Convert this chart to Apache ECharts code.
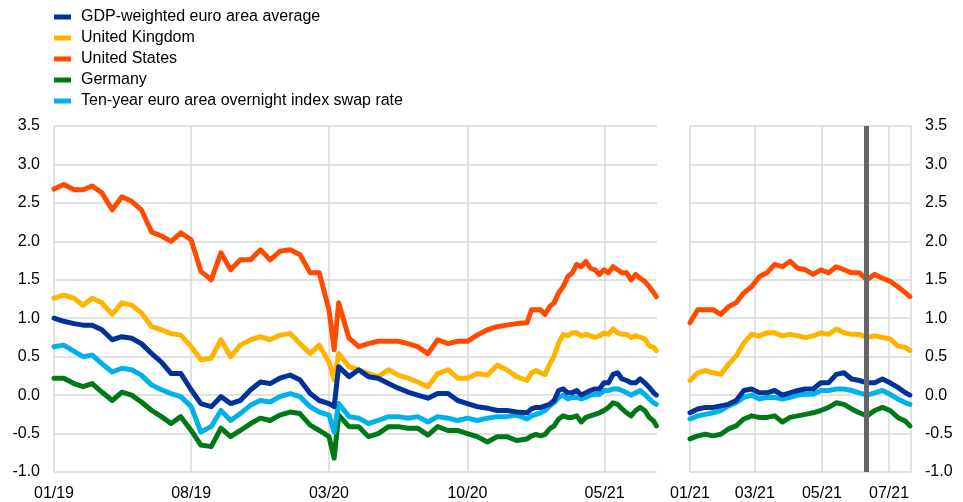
<!DOCTYPE html>
<html>
<head>
<meta charset="utf-8">
<script src="https://cdn.jsdelivr.net/npm/echarts@6/dist/echarts.min.js"></script>
<style>
html, body { margin: 0; padding: 0; background: #fff; }
#chart { width: 963px; height: 502px; }
</style>
</head>
<body>
<div id="chart"></div>
<script>
// semi-monthly to 2020, weekly in 2021
var dates = [
    '2019-01-01', '2019-01-16', '2019-02-01', '2019-02-15', '2019-03-01', '2019-03-16', '2019-04-01', '2019-04-16',
    '2019-05-01', '2019-05-16', '2019-06-01', '2019-06-16', '2019-07-01', '2019-07-16', '2019-08-01', '2019-08-16',
    '2019-09-01', '2019-09-16', '2019-10-01', '2019-10-16', '2019-11-01', '2019-11-16', '2019-12-01', '2019-12-16',
    '2020-01-01', '2020-01-16', '2020-02-01', '2020-02-15', '2020-03-01', '2020-03-09', '2020-03-16', '2020-04-01',
    '2020-04-16', '2020-05-01', '2020-05-16', '2020-06-01', '2020-06-16', '2020-07-01', '2020-07-16', '2020-08-01',
    '2020-08-16', '2020-09-01', '2020-09-16', '2020-10-01', '2020-10-16', '2020-11-01', '2020-11-16', '2020-12-01',
    '2020-12-16',
    '2021-01-01', '2021-01-08', '2021-01-15', '2021-01-22', '2021-01-29', '2021-02-05', '2021-02-12', '2021-02-19',
    '2021-02-26', '2021-03-05', '2021-03-12', '2021-03-19', '2021-03-26', '2021-04-02', '2021-04-09', '2021-04-16',
    '2021-04-23', '2021-04-30', '2021-05-07', '2021-05-14', '2021-05-21', '2021-05-28', '2021-06-04', '2021-06-11',
    '2021-06-18', '2021-06-25', '2021-07-02', '2021-07-09', '2021-07-16', '2021-07-20'
];
var gdpWeighted = [
    1.00, 0.96, 0.93, 0.91, 0.91, 0.85, 0.72, 0.76, 0.74, 0.67, 0.54, 0.43, 0.28, 0.28, 0.07, -0.11,
    -0.15, -0.02, -0.11, -0.07, 0.07, 0.17, 0.15, 0.22,
    0.26, 0.20, 0.02, -0.07, -0.11, -0.15, 0.37, 0.24, 0.33, 0.24, 0.22, 0.15, 0.09, 0.04, 0.00, -0.04,
    0.02, 0.02, -0.07, -0.11, -0.15, -0.17, -0.20, -0.20, -0.22,
    -0.23, -0.18, -0.16, -0.16, -0.14, -0.12, -0.07, 0.06, 0.08, 0.03, 0.03, 0.06, 0.00, 0.03, 0.06, 0.08,
    0.08, 0.16, 0.16, 0.27, 0.29, 0.21, 0.19, 0.16, 0.16, 0.21, 0.16, 0.10, 0.03, 0.00
];
var unitedKingdom = [
    1.26, 1.30, 1.26, 1.17, 1.26, 1.20, 1.05, 1.20, 1.17, 1.07, 0.89, 0.85, 0.80, 0.78, 0.63, 0.46,
    0.48, 0.72, 0.50, 0.65, 0.72, 0.76, 0.72, 0.78,
    0.80, 0.67, 0.54, 0.65, 0.43, 0.20, 0.54, 0.37, 0.33, 0.28, 0.24, 0.33, 0.26, 0.22, 0.17, 0.11,
    0.28, 0.33, 0.22, 0.22, 0.28, 0.26, 0.39, 0.33, 0.24,
    0.19, 0.29, 0.32, 0.29, 0.27, 0.40, 0.51, 0.68, 0.79, 0.77, 0.81, 0.81, 0.77, 0.79, 0.77, 0.75,
    0.77, 0.81, 0.79, 0.86, 0.81, 0.79, 0.79, 0.75, 0.77, 0.75, 0.73, 0.64, 0.62, 0.58
];
var unitedStates = [
    2.68, 2.74, 2.67, 2.67, 2.72, 2.63, 2.41, 2.58, 2.52, 2.41, 2.12, 2.07, 2.00, 2.11, 2.02, 1.61,
    1.50, 1.85, 1.63, 1.76, 1.76, 1.89, 1.76, 1.87,
    1.89, 1.83, 1.59, 1.59, 1.11, 0.59, 1.20, 0.74, 0.63, 0.67, 0.70, 0.70, 0.70, 0.67, 0.63, 0.54,
    0.72, 0.67, 0.70, 0.70, 0.78, 0.85, 0.89, 0.91, 0.93,
    0.94, 1.11, 1.11, 1.11, 1.05, 1.15, 1.20, 1.33, 1.41, 1.54, 1.59, 1.70, 1.67, 1.74, 1.65, 1.63,
    1.57, 1.63, 1.59, 1.67, 1.63, 1.59, 1.59, 1.50, 1.57, 1.52, 1.48, 1.41, 1.33, 1.28
];
var germany = [
    0.22, 0.22, 0.15, 0.11, 0.15, 0.04, -0.07, 0.04, 0.00, -0.09, -0.20, -0.28, -0.37, -0.28, -0.46, -0.65,
    -0.67, -0.43, -0.54, -0.46, -0.37, -0.30, -0.33, -0.26,
    -0.22, -0.24, -0.39, -0.46, -0.54, -0.82, -0.26, -0.41, -0.41, -0.54, -0.50, -0.41, -0.41, -0.43, -0.43, -0.52,
    -0.41, -0.46, -0.46, -0.50, -0.54, -0.61, -0.54, -0.54, -0.59,
    -0.57, -0.53, -0.51, -0.53, -0.51, -0.44, -0.40, -0.31, -0.27, -0.29, -0.29, -0.27, -0.35, -0.29, -0.27, -0.25,
    -0.23, -0.20, -0.16, -0.10, -0.12, -0.18, -0.23, -0.27, -0.20, -0.16, -0.20, -0.29, -0.34, -0.40
];
var oisTenYear = [
    0.63, 0.65, 0.57, 0.50, 0.52, 0.41, 0.30, 0.35, 0.33, 0.26, 0.13, 0.07, 0.02, -0.02, -0.15, -0.48,
    -0.41, -0.20, -0.33, -0.24, -0.13, -0.07, -0.09, -0.02,
    0.02, -0.02, -0.15, -0.22, -0.26, -0.48, -0.11, -0.28, -0.30, -0.37, -0.33, -0.28, -0.28, -0.30, -0.28, -0.35,
    -0.28, -0.30, -0.33, -0.30, -0.33, -0.30, -0.28, -0.28, -0.26,
    -0.31, -0.27, -0.25, -0.23, -0.20, -0.14, -0.10, -0.03, 0.00, -0.05, -0.03, -0.03, -0.05, -0.03, 0.00, 0.01,
    0.01, 0.06, 0.06, 0.08, 0.08, 0.06, 0.03, 0.00, 0.03, 0.06, 0.01, -0.05, -0.10, -0.12
];
var seriesNames = ['GDP-weighted euro area average', 'United Kingdom', 'United States', 'Germany',
    'Ten-year euro area overnight index swap rate'];
var seriesColors = ['#003299', '#ffb400', '#ff4b00', '#007816', '#00b1ea'];
var leftTicks = ['2019-01-01', '2019-08-01', '2020-03-01', '2020-10-01', '2021-05-01'];
var rightTicks = ['2021-01-01', '2021-03-01', '2021-05-01', '2021-07-01'];
var leftStart = '2019-01-01';
var rightStart = '2021-01-01';
var endDate = '2021-07-21';
var markerDate = '2021-06-10';

var font = 'Liberation Sans, Arial, sans-serif';
var gridColor = '#d9d9d9';

function toTime(s) {
    var p = s.split('-');
    return Date.UTC(+p[0], +p[1] - 1, +p[2]);
}

function monthLabel(v) {
    var d = new Date(v);
    var m = d.getUTCMonth() + 1;
    return (m < 10 ? '0' + m : m) + '/' + String(d.getUTCFullYear()).slice(2);
}

function pairs(values, from) {
    var out = [];
    for (var i = 0; i < dates.length; i++) {
        if (dates[i] >= from) {
            out.push([toTime(dates[i]), values[i]]);
        }
    }
    return out;
}

function xAxisFor(gridIndex, ticks, min) {
    var custom = ticks.map(toTime);
    return {
        type: 'value',
        gridIndex: gridIndex,
        min: toTime(min),
        max: toTime(endDate),
        axisLine: {show: false},
        axisTick: {show: false, customValues: custom},
        axisLabel: {
            customValues: custom,
            formatter: monthLabel,
            color: '#000',
            fontSize: 16,
            fontFamily: font,
            margin: 14,
            showMinLabel: true,
            showMaxLabel: true,
            hideOverlap: false
        },
        splitLine: {show: true, lineStyle: {color: gridColor, width: 1.5}}
    };
}

function yAxisFor(gridIndex, position) {
    return {
        type: 'value',
        gridIndex: gridIndex,
        position: position,
        min: -1,
        max: 3.5,
        interval: 0.5,
        axisLine: {show: position === 'right', lineStyle: {color: gridColor, width: 1.5}},
        axisTick: {show: false},
        axisLabel: {
            formatter: function (v) { return v.toFixed(1); },
            color: '#000',
            fontSize: 16,
            fontFamily: font,
            margin: 14
        },
        splitLine: {show: true, lineStyle: {color: gridColor, width: 1.5}}
    };
}

var allValues = [gdpWeighted, unitedKingdom, unitedStates, germany, oisTenYear];
var drawOrder = [2, 1, 3, 4, 0];
var series = [];
[0, 1].forEach(function (panel) {
    drawOrder.forEach(function (k) {
        series.push({
            name: seriesNames[k],
            type: 'line',
            xAxisIndex: panel,
            yAxisIndex: panel,
            showSymbol: false,
            smooth: false,
            color: seriesColors[k],
            lineStyle: {width: 5, color: seriesColors[k], cap: 'round', join: 'round'},
            data: pairs(allValues[k], panel === 0 ? leftStart : rightStart)
        });
    });
});
series[series.length - 1].markLine = {
    silent: true,
    symbol: 'none',
    label: {show: false},
    lineStyle: {color: '#666666', width: 5, type: 'solid'},
    data: [{xAxis: toTime(markerDate)}]
};

var chart = echarts.init(document.getElementById('chart'));
var option = {
    animation: false,
    backgroundColor: '#fff',
    legend: {
        orient: 'vertical',
        left: 54,
        top: 9,
        padding: 0,
        itemGap: 5,
        itemWidth: 17,
        itemHeight: 5,
        icon: 'rect',
        data: seriesNames,
        textStyle: {fontSize: 16, fontFamily: font, color: '#000', lineHeight: 16, padding: [0, 0, 0, 5]}
    },
    grid: [
        {left: 54, right: 306, top: 126, bottom: 30},
        {left: 690, right: 52, top: 126, bottom: 30}
    ],
    xAxis: [xAxisFor(0, leftTicks, leftStart), xAxisFor(1, rightTicks, rightStart)],
    yAxis: [yAxisFor(0, 'left'), yAxisFor(1, 'right')],
    series: series
};
chart.setOption(option);
</script>
</body>
</html>
